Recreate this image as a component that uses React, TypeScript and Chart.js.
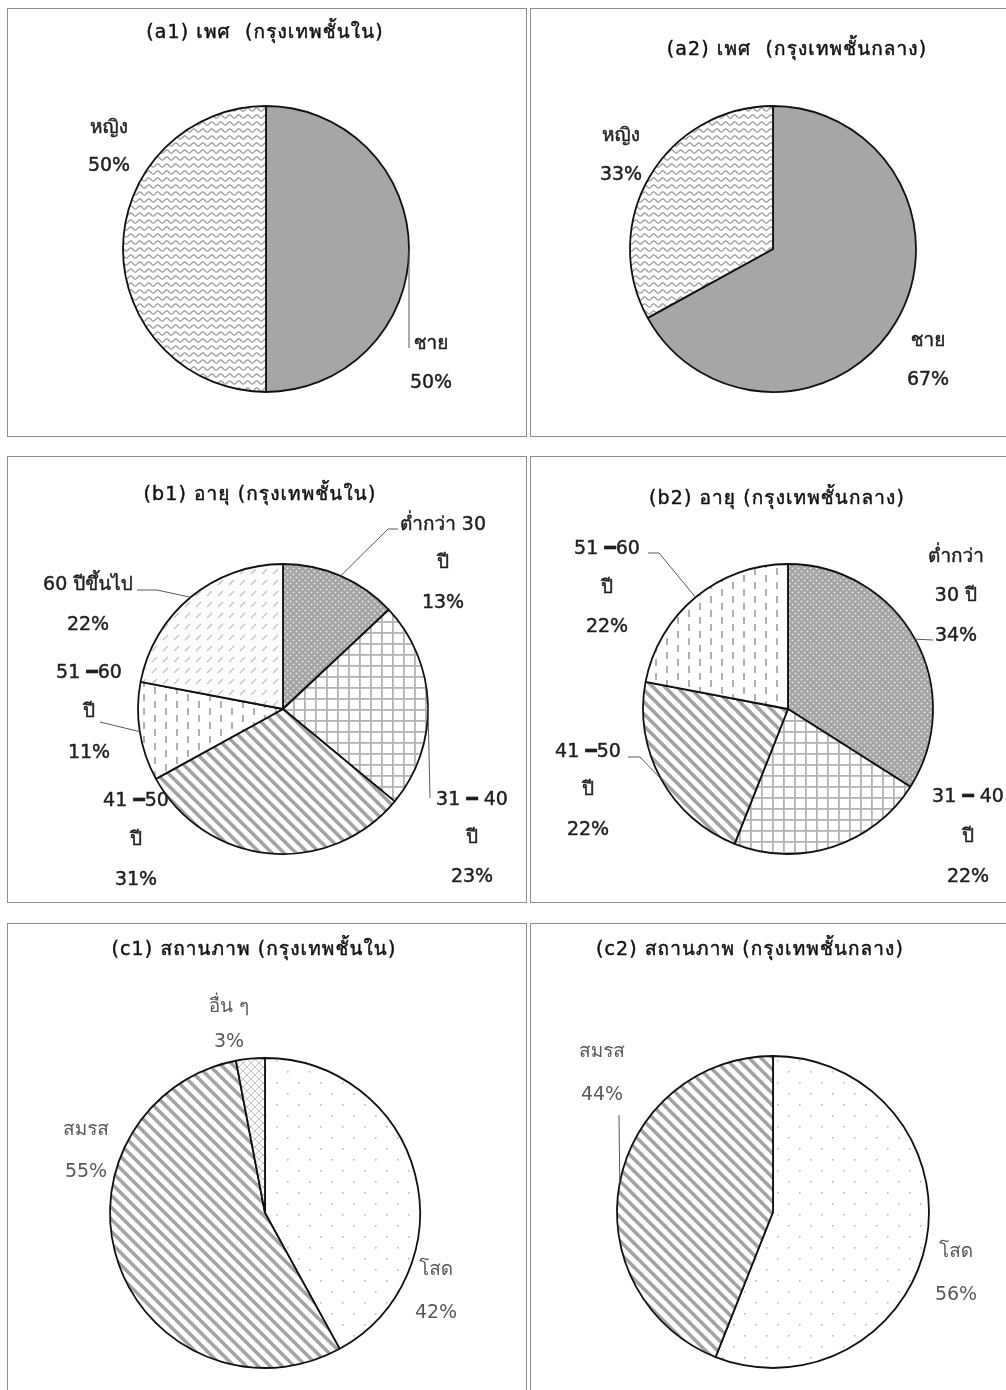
import React, { useEffect, useRef } from "react";
import { Chart, registerables } from "chart.js";

Chart.register(...registerables);

// ---------- data ----------
const genderLabels = ["ชาย", "หญิง"];
const genderInner = [50, 50];
const genderMiddle = [67, 33];

const ageLabelsInner = ["ต่ำกว่า 30\nปี", "31 ━ 40\nปี", "41 ━50\nปี", "51 ━60\nปี", "60 ปีขึ้นไป"];
const ageInner = [13, 23, 31, 11, 22];
const ageLabelsMiddle = ["ต่ำกว่า\n30 ปี", "31 ━ 40\nปี", "41 ━50\nปี", "51 ━60\nปี"];
const ageMiddle = [34, 22, 22, 22];

const statusLabelsInner = ["โสด", "สมรส", "อื่น ๆ"];
const statusInner = [42, 55, 3];
const statusLabelsMiddle = ["โสด", "สมรส"];
const statusMiddle = [56, 44];

const FONT = "'DejaVu Sans', Loma, Garuda, 'Noto Sans Thai Looped', 'Noto Sans Thai', sans-serif";

type Pt = [number, number];
interface LabelSpec {
  x: number;
  ys: number[];
  leader?: Pt[];
}
interface PanelSpec {
  box: [number, number, number, number];
  center: Pt;
  radius: number;
  title: string;
  titleAt: Pt;
  categories: string[];
  values: number[];
  fills: string[];
  labels: LabelSpec[];
  labelColor: string;
  heavyLabels: boolean;
}

// ---------- fill patterns ----------
function tile(w: number, h: number, draw: (g: CanvasRenderingContext2D) => void): CanvasPattern {
  const c = document.createElement("canvas");
  c.width = w;
  c.height = h;
  const g = c.getContext("2d")!;
  draw(g);
  return g.createPattern(c, "repeat")!;
}

function makeFill(kind: string): string | CanvasPattern {
  switch (kind) {
    case "solid":
      return "#a6a6a6";
    case "wave":
      return tile(9, 7, (g) => {
        g.fillStyle = "#ffffff";
        g.fillRect(0, 0, 9, 7);
        g.strokeStyle = "#9c9c9c";
        g.lineWidth = 1.3;
        g.beginPath();
        for (let x = -1; x <= 10; x += 0.5) {
          const y = 3.5 + 1.6 * Math.sin((2 * Math.PI * x) / 9);
          if (x === -1) g.moveTo(x, y);
          else g.lineTo(x, y);
        }
        g.stroke();
      });
    case "dotsGray":
      return tile(6, 6, (g) => {
        g.fillStyle = "#a3a3a3";
        g.fillRect(0, 0, 6, 6);
        g.fillStyle = "#e6e6e6";
        g.beginPath();
        g.arc(1.5, 1.5, 1, 0, Math.PI * 2);
        g.arc(4.5, 4.5, 1, 0, Math.PI * 2);
        g.fill();
      });
    case "grid":
      return tile(11, 11, (g) => {
        g.fillStyle = "#ffffff";
        g.fillRect(0, 0, 11, 11);
        g.fillStyle = "#b3b3b3";
        g.fillRect(0, 0, 11, 1.8);
        g.fillRect(0, 0, 1.8, 11);
      });
    case "stripes":
      return tile(12, 12, (g) => {
        g.fillStyle = "#ffffff";
        g.fillRect(0, 0, 12, 12);
        g.strokeStyle = "#a3a3a3";
        g.lineWidth = 3.6;
        g.beginPath();
        g.moveTo(-2, -2);
        g.lineTo(14, 14);
        g.moveTo(-2, 10);
        g.lineTo(2, 14);
        g.moveTo(10, -2);
        g.lineTo(14, 2);
        g.stroke();
      });
    case "vdash":
      return tile(22, 14, (g) => {
        g.fillStyle = "#ffffff";
        g.fillRect(0, 0, 22, 14);
        g.fillStyle = "#b0b0b0";
        g.fillRect(4, 0, 2, 7);
        g.fillRect(15, 7, 2, 7);
      });
    case "slash":
      return tile(11, 11, (g) => {
        g.fillStyle = "#fcfcfc";
        g.fillRect(0, 0, 11, 11);
        g.strokeStyle = "#c2c2c2";
        g.lineWidth = 1.3;
        g.beginPath();
        g.moveTo(2, 8);
        g.lineTo(7, 3);
        g.stroke();
      });
    case "sparseDots":
      return tile(22, 22, (g) => {
        g.fillStyle = "#ffffff";
        g.fillRect(0, 0, 22, 22);
        g.fillStyle = "#b8b8b8";
        g.fillRect(5, 5, 1.6, 1.6);
        g.fillRect(16, 16, 1.6, 1.6);
      });
    case "crosshatch":
      return tile(8, 8, (g) => {
        g.fillStyle = "#ffffff";
        g.fillRect(0, 0, 8, 8);
        g.strokeStyle = "#c4c4c4";
        g.lineWidth = 1;
        g.beginPath();
        g.moveTo(0, 0);
        g.lineTo(8, 8);
        g.moveTo(8, 0);
        g.lineTo(0, 8);
        g.stroke();
      });
    default:
      return "#ffffff";
  }
}

// ---------- panel layout ----------
const panels: PanelSpec[] = [
  {
    box: [7, 8, 520, 429],
    center: [266, 249],
    radius: 143,
    title: "(a1) เพศ  (กรุงเทพชั้นใน)",
    titleAt: [265, 33],
    categories: genderLabels,
    values: genderInner,
    fills: ["solid", "wave"],
    labels: [
      { x: 431, ys: [344, 383], leader: [[409, 348]] },
      { x: 109, ys: [128, 166] },
    ],
    labelColor: "#1f1f1f",
    heavyLabels: true,
  },
  {
    box: [530, 8, 476, 429],
    center: [773, 249],
    radius: 143,
    title: "(a2) เพศ  (กรุงเทพชั้นกลาง)",
    titleAt: [797, 50],
    categories: genderLabels,
    values: genderMiddle,
    fills: ["solid", "wave"],
    labels: [
      { x: 928, ys: [341, 380] },
      { x: 621, ys: [136, 175] },
    ],
    labelColor: "#1f1f1f",
    heavyLabels: true,
  },
  {
    box: [7, 456, 520, 447],
    center: [283, 709],
    radius: 145,
    title: "(b1) อายุ (กรุงเทพชั้นใน)",
    titleAt: [260, 495],
    categories: ageLabelsInner,
    values: ageInner,
    fills: ["dotsGray", "grid", "stripes", "vdash", "slash"],
    labels: [
      { x: 443, ys: [525, 563, 603], leader: [[398, 529], [388, 529]] },
      { x: 472, ys: [800, 838, 877], leader: [[430, 798]] },
      { x: 136, ys: [801, 840, 880] },
      { x: 89, ys: [673, 712, 753], leader: [[100, 722]] },
      { x: 88, ys: [585, 625], leader: [[137, 590], [157, 590]] },
    ],
    labelColor: "#1f1f1f",
    heavyLabels: true,
  },
  {
    box: [530, 456, 476, 447],
    center: [788, 709],
    radius: 145,
    title: "(b2) อายุ (กรุงเทพชั้นกลาง)",
    titleAt: [777, 499],
    categories: ageLabelsMiddle,
    values: ageMiddle,
    fills: ["dotsGray", "grid", "stripes", "vdash"],
    labels: [
      { x: 956, ys: [557, 596, 636], leader: [[933, 640]] },
      { x: 968, ys: [797, 837, 877] },
      { x: 588, ys: [752, 790, 830], leader: [[628, 757], [640, 757]] },
      { x: 607, ys: [549, 588, 627], leader: [[648, 553], [659, 553]] },
    ],
    labelColor: "#1f1f1f",
    heavyLabels: true,
  },
  {
    box: [7, 923, 520, 467],
    center: [265, 1213],
    radius: 155,
    title: "(c1) สถานภาพ (กรุงเทพชั้นใน)",
    titleAt: [254, 950],
    categories: statusLabelsInner,
    values: statusInner,
    fills: ["sparseDots", "stripes", "crosshatch"],
    labels: [
      { x: 436, ys: [1270, 1313] },
      { x: 86, ys: [1130, 1172] },
      { x: 229, ys: [1007, 1042] },
    ],
    labelColor: "#595959",
    heavyLabels: false,
  },
  {
    box: [530, 923, 476, 467],
    center: [773, 1212],
    radius: 156,
    title: "(c2) สถานภาพ (กรุงเทพชั้นกลาง)",
    titleAt: [750, 950],
    categories: statusLabelsMiddle,
    values: statusMiddle,
    fills: ["sparseDots", "stripes"],
    labels: [
      { x: 956, ys: [1252, 1295] },
      { x: 602, ys: [1052, 1095], leader: [[619, 1115]] },
    ],
    labelColor: "#595959",
    heavyLabels: false,
  },
];

function heavyText(ctx: CanvasRenderingContext2D, t: string, x: number, y: number, heavy: boolean) {
  ctx.fillText(t, x, y);
  if (heavy) {
    ctx.lineWidth = 0.45;
    ctx.strokeStyle = ctx.fillStyle as string;
    ctx.strokeText(t, x, y);
  }
}

// Draws the panel title, slice labels and leader lines on top of the pie.
function panelText(spec: PanelSpec) {
  return {
    id: "panelText",
    afterDraw(chart: Chart) {
      const ctx = chart.ctx;
      const [left, top] = spec.box;
      const meta = chart.getDatasetMeta(0);
      ctx.save();
      ctx.translate(-left, -top);
      ctx.textAlign = "center";
      ctx.textBaseline = "middle";

      ctx.font = `19px ${FONT}`;
      ctx.fillStyle = "#111111";
      (ctx as any).letterSpacing = "1.1px";
      heavyText(ctx, spec.title, spec.titleAt[0], spec.titleAt[1], true);
      (ctx as any).letterSpacing = "0px";

      spec.labels.forEach((lab, i) => {
        if (!lab.leader) return;
        const arc: any = meta.data[i];
        const p = arc.getProps(["x", "y", "startAngle", "endAngle", "outerRadius"], true);
        const mid = (p.startAngle + p.endAngle) / 2;
        const ex = p.x + Math.cos(mid) * p.outerRadius + left;
        const ey = p.y + Math.sin(mid) * p.outerRadius + top;
        ctx.strokeStyle = "#595959";
        ctx.lineWidth = 1;
        ctx.beginPath();
        lab.leader.forEach(([lx, ly], k) => (k === 0 ? ctx.moveTo(lx, ly) : ctx.lineTo(lx, ly)));
        ctx.lineTo(ex, ey);
        ctx.stroke();
      });

      ctx.font = `19px ${FONT}`;
      ctx.fillStyle = spec.labelColor;
      spec.labels.forEach((lab, i) => {
        const lines = spec.categories[i].split("\n").concat(`${spec.values[i]}%`);
        lines.forEach((t, k) => heavyText(ctx, t, lab.x, lab.ys[k], spec.heavyLabels));
      });
      ctx.restore();
    },
  };
}

function PiePanel({ spec }: { spec: PanelSpec }) {
  const ref = useRef<HTMLCanvasElement>(null);
  const [left, top, w, h] = spec.box;

  useEffect(() => {
    const canvas = ref.current;
    if (!canvas) return;
    const cx = spec.center[0] - left;
    const cy = spec.center[1] - top;
    const r = spec.radius;
    const chart = new Chart(canvas, {
      type: "pie",
      data: {
        labels: spec.categories,
        datasets: [
          {
            data: spec.values,
            backgroundColor: spec.fills.map(makeFill) as any,
            borderColor: "#111111",
            borderWidth: 1.8,
            radius: r,
          } as any,
        ],
      },
      options: {
        responsive: false,
        animation: false,
        devicePixelRatio: 1,
        events: [],
        layout: {
          padding: { left: cx - r, right: w - cx - r, top: cy - r, bottom: h - cy - r },
        },
        plugins: {
          legend: { display: false },
          tooltip: { enabled: false },
          title: { display: false },
        },
      },
      plugins: [panelText(spec) as any],
    });
    return () => chart.destroy();
  }, [spec]);

  const isRight = left > 500;
  const isBottom = top > 900;
  return (
    <>
      <canvas
        ref={ref}
        width={w}
        height={h}
        style={{ position: "absolute", left, top, width: w, height: h }}
      />
      <div
        style={{
          position: "absolute",
          left,
          top,
          width: w,
          height: h,
          boxSizing: "border-box",
          border: "1px solid #8e8e8e",
          borderRight: isRight ? "none" : "1px solid #8e8e8e",
          borderBottom: isBottom ? "none" : "1px solid #8e8e8e",
          pointerEvents: "none",
        }}
      />
    </>
  );
}

export default function App() {
  return (
    <div
      style={{
        position: "absolute",
        left: 0,
        top: 0,
        width: 1006,
        height: 1390,
        overflow: "hidden",
        background: "#ffffff",
      }}
    >
      {panels.map((p, i) => (
        <PiePanel key={i} spec={p} />
      ))}
    </div>
  );
}
